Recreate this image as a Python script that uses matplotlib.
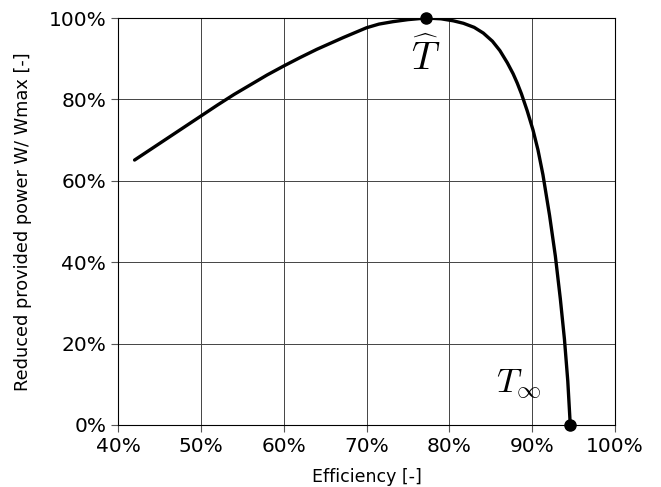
import matplotlib.pyplot as plt
from matplotlib.ticker import PercentFormatter

plt.rcParams['mathtext.fontset'] = 'cm'

# efficiency [%] and reduced power [%]
efficiency = [42.0, 44.0, 46.0, 48.0, 50.0, 52.0, 54.0, 56.0, 58.0, 60.0, 62.0,
              64.0, 67.2, 70.0, 71.5, 73.2, 75.0, 77.2, 79.0, 80.5, 81.7, 83.0,
              84.1, 85.2, 86.1, 87.0, 87.7, 88.2, 88.7, 89.4, 90.1, 90.7, 91.3,
              92.1, 92.8, 93.4, 93.9, 94.3, 94.6]
power = [65.1, 67.8, 70.5, 73.2, 75.9, 78.6, 81.2, 83.6, 86.0, 88.2, 90.3,
         92.3, 95.2, 97.6, 98.5, 99.1, 99.6, 100.0, 99.8, 99.3, 98.7, 97.7,
         96.3, 94.3, 92.0, 89.0, 86.3, 84.0, 81.4, 77.2, 72.5, 67.6, 61.5,
         51.5, 41.5, 31.0, 21.0, 10.8, 0.0]

peak = (77.2, 100.0)
end = (94.6, 0.0)

fig = plt.figure(figsize=(6.61, 4.87), dpi=100)
ax = fig.add_axes([118/661, 62/487, 497/661, 407/487])

ax.plot(efficiency, power, color='black', lw=2.4, solid_capstyle='round')
ax.plot(*peak, 'o', color='black', ms=8, clip_on=False, zorder=5)
ax.plot(*end, 'o', color='black', ms=8, clip_on=False, zorder=5)

ax.text(77.1, 90.2, r'$\widehat{T}$', fontsize=28, ha='center', va='center')
ax.text(88.4, 9.8, r'$T_\infty$', fontsize=25, ha='center', va='center')

ax.set_xlim(40, 100)
ax.set_ylim(0, 100)
ax.set_xticks(range(40, 101, 10))
ax.set_yticks(range(0, 101, 20))
ax.xaxis.set_major_formatter(PercentFormatter(decimals=0))
ax.yaxis.set_major_formatter(PercentFormatter(decimals=0))
ax.tick_params(labelsize=14.5, direction='out', length=5, color='#555555')
ax.grid(True, color='#444444', lw=0.7)

ax.set_xlabel('Efficiency [-]', fontsize=12.5, labelpad=9)
ax.set_ylabel('Reduced provided power W/ Wmax [-]', fontsize=12.8, labelpad=12)

plt.savefig('out.png', dpi=100)
